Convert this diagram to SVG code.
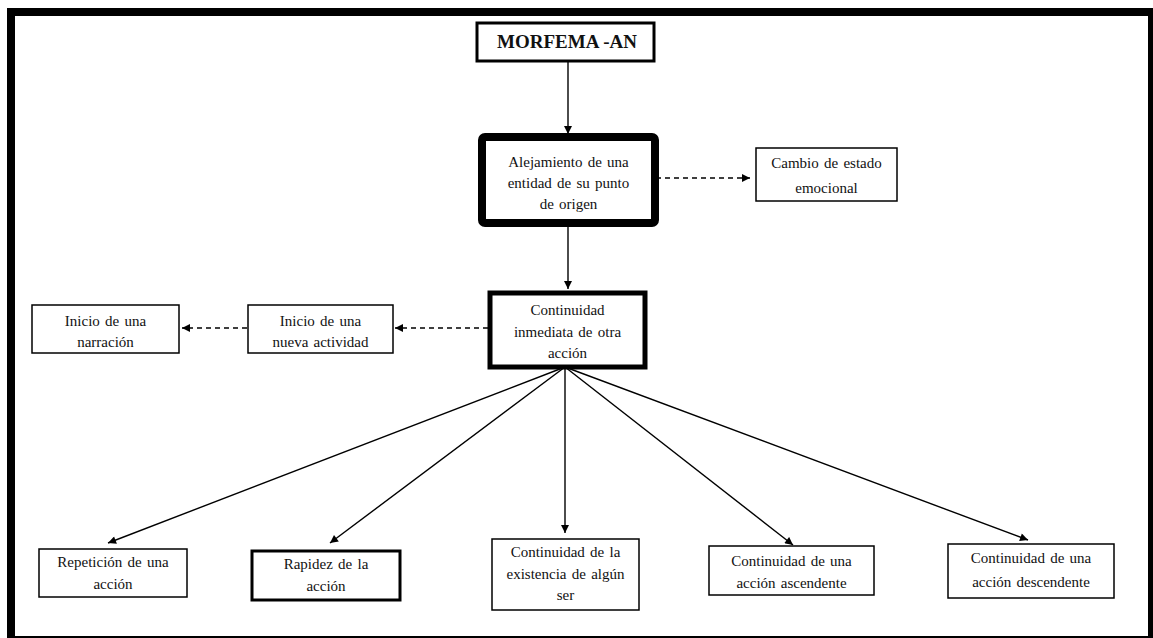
<svg xmlns="http://www.w3.org/2000/svg" width="1153" height="638" viewBox="0 0 1153 638">
  <style>
    .box { fill: #ffffff; stroke: #000000; stroke-width: 1.5; }
    .label { font-family: "Liberation Serif", "Times New Roman", serif; font-size: 15px; fill: #111111; text-anchor: middle; word-spacing: 1.5px; }
    .title { font-family: "Liberation Serif", "Times New Roman", serif; font-size: 19px; font-weight: bold; fill: #111111; text-anchor: middle; }
    .link { fill: none; stroke: #000000; stroke-width: 1.4; }
    .dash { stroke-dasharray: 5 4; }
  </style>
  <defs>
    <marker id="arrow" viewBox="0 0 10 10" refX="10" refY="5" markerWidth="9" markerHeight="8" markerUnits="userSpaceOnUse" orient="auto">
      <path d="M0,0 L10,5 L0,10 z" fill="#000000"/>
    </marker>
  </defs>

  <rect x="0" y="0" width="1153" height="638" fill="#ffffff"/>
  <!-- outer frame -->
  <rect x="11" y="12" width="1141" height="628" fill="none" stroke="#000000" stroke-width="8"/>

  <g id="connectors">
    <line class="link" x1="568" y1="61" x2="568" y2="134" marker-end="url(#arrow)"/>
    <line class="link dash" x1="656" y1="178" x2="750" y2="178" marker-end="url(#arrow)"/>
    <line class="link" x1="568" y1="226" x2="568" y2="289" marker-end="url(#arrow)"/>
    <line class="link dash" x1="488" y1="328" x2="395" y2="328" marker-end="url(#arrow)"/>
    <line class="link dash" x1="247" y1="328" x2="182" y2="328" marker-end="url(#arrow)"/>
    <line class="link" x1="565" y1="367" x2="108" y2="543" marker-end="url(#arrow)"/>
    <line class="link" x1="565" y1="367" x2="330" y2="543" marker-end="url(#arrow)"/>
    <line class="link" x1="565" y1="367" x2="565" y2="533" marker-end="url(#arrow)"/>
    <line class="link" x1="565" y1="367" x2="793" y2="545" marker-end="url(#arrow)"/>
    <line class="link" x1="565" y1="367" x2="1028" y2="540" marker-end="url(#arrow)"/>
  </g>

  <g id="morfema">
    <rect class="box" x="477" y="23" width="177" height="38" style="stroke-width:3"/>
    <text class="title" x="567" y="48">MORFEMA -AN</text>
  </g>

  <g id="alejamiento">
    <rect class="box" x="482" y="137" width="173" height="86" rx="3" style="stroke-width:8"/>
    <text class="label" x="568.5" y="167">Alejamiento de una</text>
    <text class="label" x="568.5" y="188">entidad de su punto</text>
    <text class="label" x="568.5" y="209">de origen</text>
  </g>

  <g id="cambio">
    <rect class="box" x="756" y="148" width="141" height="53"/>
    <text class="label" x="826.5" y="168">Cambio de estado</text>
    <text class="label" x="826.5" y="193">emocional</text>
  </g>

  <g id="continuidad-inmediata">
    <rect class="box" x="490" y="293" width="155" height="74" style="stroke-width:5"/>
    <text class="label" x="567.5" y="315">Continuidad</text>
    <text class="label" x="567.5" y="337">inmediata de otra</text>
    <text class="label" x="567.5" y="358">acción</text>
  </g>

  <g id="nueva-actividad">
    <rect class="box" x="248" y="305" width="145" height="48"/>
    <text class="label" x="320.5" y="326">Inicio de una</text>
    <text class="label" x="320.5" y="347">nueva actividad</text>
  </g>

  <g id="narracion">
    <rect class="box" x="32" y="305" width="147" height="48"/>
    <text class="label" x="105.5" y="326">Inicio de una</text>
    <text class="label" x="105.5" y="347">narración</text>
  </g>

  <g id="repeticion">
    <rect class="box" x="39" y="549" width="148" height="48"/>
    <text class="label" x="113" y="567">Repetición de una</text>
    <text class="label" x="113" y="589">acción</text>
  </g>

  <g id="rapidez">
    <rect class="box" x="252" y="551" width="148" height="49" style="stroke-width:3"/>
    <text class="label" x="326" y="569">Rapidez de la</text>
    <text class="label" x="326" y="591">acción</text>
  </g>

  <g id="existencia">
    <rect class="box" x="492" y="539" width="147" height="71"/>
    <text class="label" x="565.5" y="557">Continuidad de la</text>
    <text class="label" x="565.5" y="579">existencia de algún</text>
    <text class="label" x="565.5" y="600">ser</text>
  </g>

  <g id="ascendente">
    <rect class="box" x="709" y="546" width="165" height="49"/>
    <text class="label" x="791.5" y="566">Continuidad de una</text>
    <text class="label" x="791.5" y="588">acción ascendente</text>
  </g>

  <g id="descendente">
    <rect class="box" x="948" y="544" width="166" height="54"/>
    <text class="label" x="1031" y="563">Continuidad de una</text>
    <text class="label" x="1031" y="587">acción descendente</text>
  </g>
</svg>
